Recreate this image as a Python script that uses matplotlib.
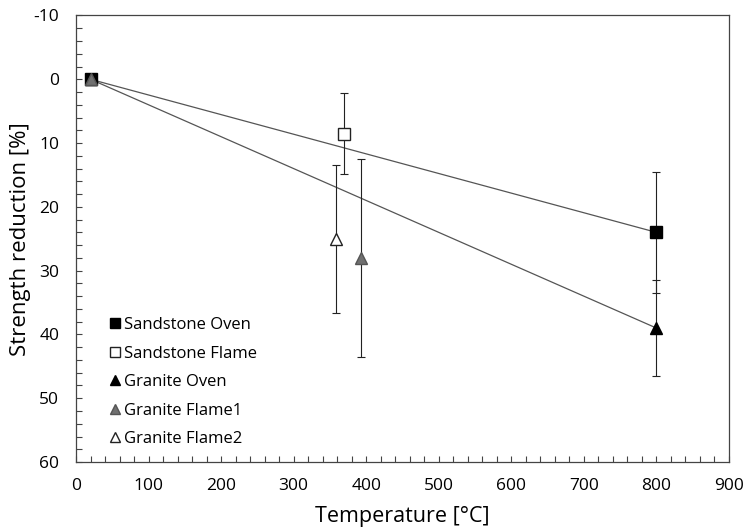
import matplotlib.pyplot as plt
from matplotlib.ticker import MultipleLocator

plt.rcParams['font.family'] = ['Open Sans', 'DejaVu Sans']
plt.rcParams['axes.unicode_minus'] = False

# data
ss_oven_t = [20, 800]
ss_oven_r = [0, 24]
ss_oven_err = [0, 9.5]

ss_flame_t = [370]
ss_flame_r = [8.5]
ss_flame_err = [6.4]

gr_oven_t = [20, 800]
gr_oven_r = [0, 39]
gr_oven_err = [0, 7.5]

gr_flame1_t = [20, 393]
gr_flame1_r = [0, 28]
gr_flame1_err = [0, 15.5]

gr_flame2_t = [359]
gr_flame2_r = [25]
gr_flame2_err = [11.6]

# fitted lines
ss_line_t = [20, 800]
ss_line_r = [0, 24]
gr_line_t = [20, 800]
gr_line_r = [0, 39]

fig = plt.figure(figsize=(7.45, 5.27), dpi=100)
ax = fig.add_axes([0.102, 0.1233, 0.8765, 0.8473])

ax.plot(ss_line_t, ss_line_r, color='#555555', lw=0.9, zorder=1)
ax.plot(gr_line_t, gr_line_r, color='#555555', lw=0.9, zorder=1)

eb = dict(ls='none', ecolor='#222222', elinewidth=0.8, capsize=3, capthick=0.8, ms=8.5)
ax.errorbar(gr_oven_t, gr_oven_r, yerr=gr_oven_err, marker='^', mfc='black', mec='black',
            label='Granite Oven', zorder=3, **eb)
ax.errorbar(ss_oven_t, ss_oven_r, yerr=ss_oven_err, marker='s', mfc='black', mec='black',
            label='Sandstone Oven', zorder=3, **eb)
ax.errorbar(ss_flame_t, ss_flame_r, yerr=ss_flame_err, marker='s', mfc='white', mec='#222222',
            label='Sandstone Flame', zorder=3, **eb)
ax.errorbar(gr_flame2_t, gr_flame2_r, yerr=gr_flame2_err, marker='^', mfc='white', mec='#222222',
            label='Granite Flame2', zorder=3, **eb)
ax.errorbar(gr_flame1_t, gr_flame1_r, yerr=gr_flame1_err, marker='^', mfc='#707070', mec='#555555',
            label='Granite Flame1', zorder=3, **eb)

ax.set_xlim(0, 900)
ax.set_ylim(60, -10)
ax.xaxis.set_major_locator(MultipleLocator(100))
ax.xaxis.set_minor_locator(MultipleLocator(20))
ax.yaxis.set_major_locator(MultipleLocator(10))
ax.yaxis.set_minor_locator(MultipleLocator(2))
ax.tick_params(which='both', direction='in', length=4, width=0.8, color='#444444',
               labelsize=12.5, top=False, right=False)
ax.tick_params(axis='x', pad=11.5)
ax.tick_params(axis='y', pad=12)
for s in ax.spines.values():
    s.set_color('#444444')
    s.set_linewidth(0.9)

ax.set_xlabel('Temperature [°C]', fontsize=15.5, labelpad=9)
ax.set_ylabel('Strength reduction [%]', fontsize=16, labelpad=2)

handles, labels = ax.get_legend_handles_labels()
order = ['Sandstone Oven', 'Sandstone Flame', 'Granite Oven', 'Granite Flame1', 'Granite Flame2']
h = [handles[labels.index(o)][0] for o in order]
ax.legend(h, order, loc='lower left', bbox_to_anchor=(0.03, 0.0), frameon=False,
          fontsize=12, handlelength=0.5, handletextpad=0.3, labelspacing=0.75,
          markerscale=0.8)

fig.savefig('out.png', dpi=100)
